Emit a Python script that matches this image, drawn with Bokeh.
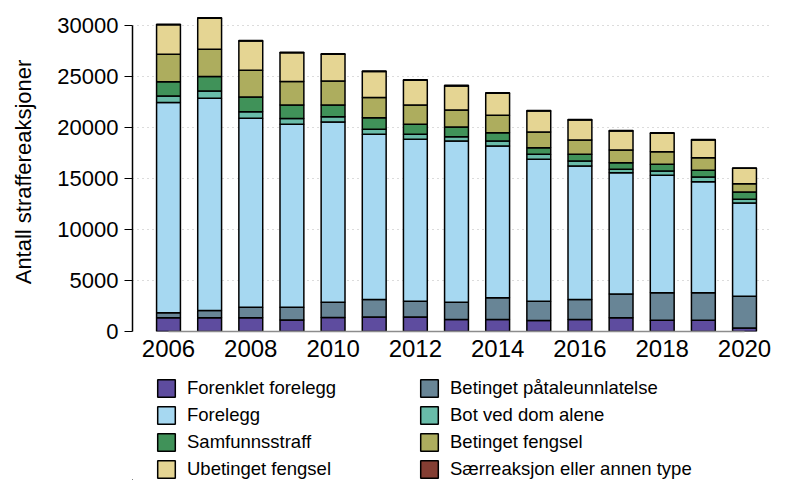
from bokeh.plotting import figure
from bokeh.layouts import column
from bokeh.models import Legend, LegendItem, Range1d, FixedTicker, ColumnDataSource
from bokeh.embed import file_html
from bokeh.resources import INLINE

years = [2006, 2007, 2008, 2009, 2010, 2011, 2012, 2013, 2014, 2015, 2016, 2017, 2018, 2019, 2020]
forenklet_forelegg = [1340, 1350, 1340, 1140, 1380, 1430, 1430, 1180, 1180, 1080, 1180, 1340, 1110, 1110, 350]
betinget_paataleunnlatelse = [490, 700, 1050, 1250, 1500, 1710, 1550, 1700, 2120, 1900, 1960, 2350, 2680, 2680, 3120]
forelegg = [20630, 20830, 18530, 17940, 17680, 16210, 15880, 15810, 14900, 13920, 13100, 11890, 11530, 10910, 9130]
bot_ved_dom_alene = [640, 720, 650, 560, 520, 490, 490, 430, 490, 490, 490, 330, 430, 460, 370]
samfunnsstraff = [1400, 1410, 1430, 1340, 1150, 1140, 980, 950, 820, 650, 660, 650, 650, 650, 710]
betinget_fengsel = [2700, 2680, 2640, 2290, 2360, 1970, 1900, 1670, 1710, 1540, 1400, 1250, 1240, 1250, 820]
ubetinget_fengsel = [2890, 3040, 2860, 2820, 2610, 2550, 2420, 2360, 2160, 2060, 1970, 1870, 1810, 1730, 1510]
saerreaksjon = [60, 60, 50, 50, 50, 50, 50, 50, 40, 40, 40, 40, 40, 40, 40]

series_keys = ["ff", "bp", "fo", "bo", "sa", "bf", "uf", "sr"]
series_names = ["Forenklet forelegg", "Betinget påtaleunnlatelse", "Forelegg", "Bot ved dom alene",
                "Samfunnsstraff", "Betinget fengsel", "Ubetinget fengsel", "Særreaksjon eller annen type"]
colors = ["#5E4C9F", "#688596", "#A6D8F1", "#69BCA9", "#409259", "#ADAD5E", "#E5D593", "#843E33"]
y_ticks = [0, 5000, 10000, 15000, 20000, 25000, 30000]
x_ticks = [2006, 2008, 2010, 2012, 2014, 2016, 2018, 2020]

source = ColumnDataSource(dict(year=years, ff=forenklet_forelegg, bp=betinget_paataleunnlatelse,
                               fo=forelegg, bo=bot_ved_dom_alene, sa=samfunnsstraff,
                               bf=betinget_fengsel, uf=ubetinget_fengsel, sr=saerreaksjon))

FONT = "Liberation Sans"

p = figure(width=771, height=368, output_backend="svg", toolbar_location=None,
           x_range=Range1d(2005.125, 2020.656), y_range=Range1d(0, 31300),
           min_border_left=132, min_border_right=0, min_border_top=12, min_border_bottom=37)

renderers = p.vbar_stack(series_keys, x="year", width=0.58, color=colors,
                         line_color="black", line_width=1.5, source=source)

p.outline_line_color = None
p.xgrid.visible = False
p.ygrid.ticker = FixedTicker(ticks=y_ticks)
p.ygrid.grid_line_color = "#b8b8b8"
p.ygrid.grid_line_dash = "1 4"
p.ygrid.grid_line_width = 1

p.yaxis.ticker = FixedTicker(ticks=y_ticks)
p.yaxis.bounds = (0, 30000)
p.yaxis.axis_line_color = "black"
p.yaxis.axis_line_width = 1.5
p.yaxis.major_tick_out = 8
p.yaxis.major_tick_in = 0
p.yaxis.minor_tick_line_color = None
p.yaxis.major_label_standoff = 6
p.yaxis.major_label_text_font = FONT
p.yaxis.major_label_text_font_size = "22px"
p.yaxis.major_label_text_color = "black"
p.yaxis.axis_label = "Antall straffereaksjoner"
p.yaxis.axis_label_text_font = FONT
p.yaxis.axis_label_text_font_size = "22px"
p.yaxis.axis_label_text_font_style = "normal"
p.yaxis.axis_label_text_color = "black"
p.yaxis.axis_label_standoff = 18

p.xaxis.ticker = FixedTicker(ticks=x_ticks)
p.xaxis.bounds = (2006, 2020)
p.xaxis.axis_line_color = "#8c8c8c"
p.xaxis.axis_line_width = 1.5
p.xaxis.major_tick_out = 0
p.xaxis.major_tick_in = 0
p.xaxis.minor_tick_line_color = None
p.xaxis.major_label_standoff = 8
p.xaxis.major_label_text_font = FONT
p.xaxis.major_label_text_font_size = "24px"
p.xaxis.major_label_text_color = "black"

# legend panel below the chart (swatch renderers sit outside the visible range)
lf = figure(width=771, height=112, output_backend="svg", toolbar_location=None,
            x_axis_type=None, y_axis_type=None, min_border=0,
            x_range=Range1d(0, 1), y_range=Range1d(0, 1))
lf.outline_line_color = None
swatches = [lf.vbar(x=[-5], top=[-5], bottom=[-6], width=0.5, fill_color=c,
                    line_color="black", line_width=1.5) for c in colors]

order = [0, 2, 4, 6, 1, 3, 5, 7]
items = [LegendItem(label=series_names[i], renderers=[swatches[i]]) for i in order]
legend = Legend(items=items, ncols=2, location=(23, 0),
                glyph_width=22, glyph_height=22, label_standoff=10, label_width=226,
                label_height=22, spacing=5, padding=0, margin=0,
                label_text_font=FONT, label_text_font_size="18.5px", label_text_color="black",
                border_line_color=None, background_fill_alpha=0)
lf.add_layout(legend, "center")

layout = column(p, lf, spacing=0)
open("out.html", "w").write(file_html(layout, INLINE))
